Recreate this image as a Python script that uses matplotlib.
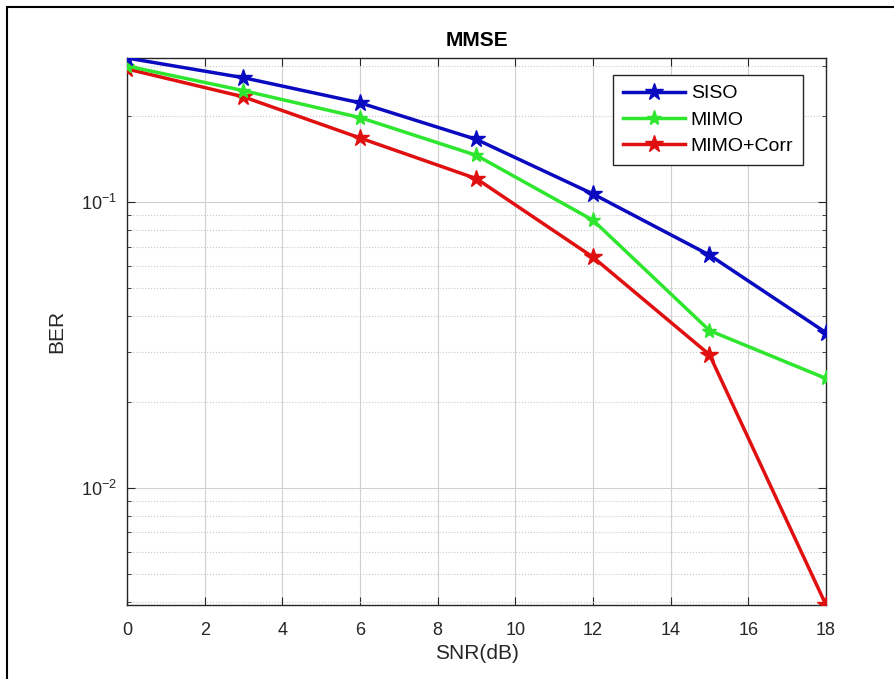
import numpy as np
import matplotlib
matplotlib.use('Agg')
import matplotlib.pyplot as plt
from matplotlib.ticker import LogLocator, NullFormatter, MultipleLocator
from matplotlib.patches import Rectangle

plt.rcParams['font.family'] = ['Liberation Sans', 'DejaVu Sans']

snr = [0, 3, 6, 9, 12, 15, 18]
ber_siso = [0.320, 0.273, 0.223, 0.166, 0.107, 0.0654, 0.0350]
ber_mimo = [0.300, 0.246, 0.198, 0.146, 0.0866, 0.0356, 0.0242]
ber_corr = [0.293, 0.234, 0.168, 0.121, 0.0643, 0.0293, 0.0039]

fig = plt.figure(figsize=(8.95, 6.79), dpi=100)
ax = fig.add_axes([127 / 895, 74 / 679, 699 / 895, 547 / 679])

# outer frame of the screenshot
fig.add_artist(Rectangle((7 / 895, -0.1), 1.2, (672 / 679) + 0.1, transform=fig.transFigure,
                         fill=False, edgecolor='black', linewidth=1.5))

ax.plot(snr, ber_siso, color='#0a0ac0', linewidth=2.5, marker='*', markersize=13, label='SISO', zorder=5)
ax.plot(snr, ber_mimo, color='#2ee62e', linewidth=2.5, marker='*', markersize=11, label='MIMO', zorder=4)
ax.plot(snr, ber_corr, color='#e01010', linewidth=2.5, marker='*', markersize=13, label='MIMO+Corr', zorder=3)

ax.set_yscale('log')
ax.set_xlim(0, 18)
ax.set_ylim(min(ber_corr), max(ber_siso))
ax.xaxis.set_major_locator(MultipleLocator(2))
ax.yaxis.set_major_locator(LogLocator(base=10))
ax.yaxis.set_minor_locator(LogLocator(base=10, subs=np.arange(2, 10)))
ax.yaxis.set_minor_formatter(NullFormatter())

dark = '#262626'
ax.grid(True, which='major', color='#d0d0d0', linestyle='-', linewidth=0.8)
ax.grid(True, which='minor', axis='y', color='#c8c8c8', linestyle=':', linewidth=0.8)
ax.tick_params(which='both', direction='in', top=True, right=True, colors=dark, labelsize=13)
ax.tick_params(which='major', length=6)
ax.tick_params(which='minor', length=3)
ax.tick_params(axis='x', pad=12)
ax.tick_params(axis='y', pad=7)
for s in ax.spines.values():
    s.set_color(dark)
    s.set_linewidth(1.0)

ax.set_xlabel('SNR(dB)', fontsize=15, color=dark, labelpad=4)
ax.set_ylabel('BER', fontsize=15, color=dark, labelpad=11)
ax.set_title('MMSE', fontsize=15, fontweight='bold', pad=9)

leg = ax.legend(loc='upper right', bbox_to_anchor=(676 / 699, 1 - 17 / 547), fontsize=14,
                frameon=True, fancybox=False, edgecolor=dark, framealpha=1,
                handlelength=3.2, borderpad=0.5, labelspacing=0.45, handletextpad=0.3,
                borderaxespad=0)
leg.get_frame().set_linewidth(1.0)

plt.savefig('out.png', dpi=100)
